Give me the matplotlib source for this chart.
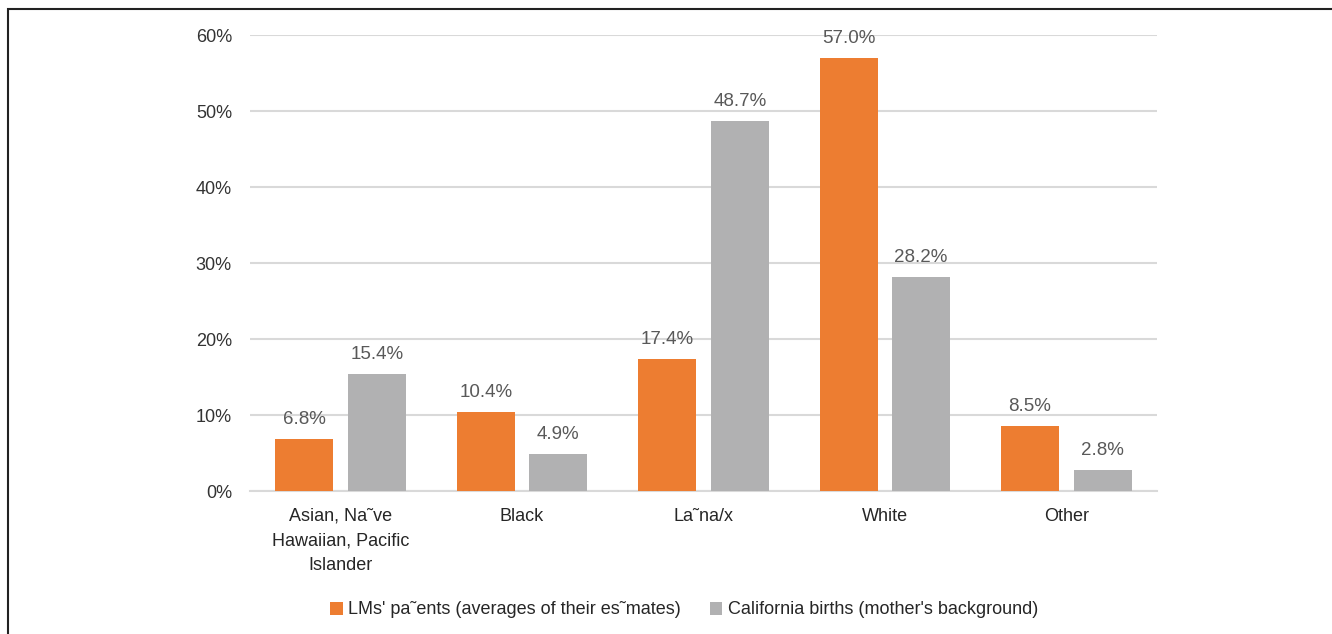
import matplotlib
matplotlib.use("Agg")
import matplotlib.pyplot as plt
import numpy as np
from matplotlib.patches import Rectangle

categories = ["Asian, Na\u02dcve\nHawaiian, Pacific\nIslander", "Black", "La\u02dcna/x", "White", "Other"]
lm_values = [6.8, 10.4, 17.4, 57.0, 8.5]
ca_values = [15.4, 4.9, 48.7, 28.2, 2.8]
series_names = ["LMs' pa\u02dcents (averages of their es\u02dcmates)", "California births (mother's background)"]
yticks = [0, 10, 20, 30, 40, 50, 60]

plt.rcParams['font.family'] = ['Liberation Sans', 'DejaVu Sans']

fig = plt.figure(figsize=(13.32, 6.34), dpi=100)
ax = fig.add_axes([250/1332, 1-491/634, (1157-250)/1332, (491-35)/634])

x = np.arange(len(categories))
w = 0.32
off = 0.2
orange = "#ED7D31"
gray = "#B1B1B2"
b1 = ax.bar(x - off, lm_values, w, color=orange, label=series_names[0], zorder=3)
b2 = ax.bar(x + off, ca_values, w, color=gray, label=series_names[1], zorder=3)

for bars, vals in ((b1, lm_values), (b2, ca_values)):
    for r, v in zip(bars, vals):
        ax.annotate(f"{v:.1f}%", (r.get_x() + r.get_width()/2, v), xytext=(0, 8),
                    textcoords="offset points", ha="center", va="bottom",
                    fontsize=13.5, color="#595959")

ax.set_xlim(-0.5, 4.5)
ax.set_ylim(0, 60)
ax.set_yticks(yticks)
ax.set_yticklabels([f"{t}%" for t in yticks], fontsize=13, color="#333333")
ax.set_xticks(x)
ax.set_xticklabels(categories, fontsize=13, color="#262626", linespacing=1.6)
ax.tick_params(axis='both', length=0)
ax.tick_params(axis='y', pad=13)
ax.tick_params(axis='x', pad=12)
ax.grid(axis='y', color="#D9D9D9", linewidth=1.5, zorder=0)
for s in ['top', 'right', 'left']:
    ax.spines[s].set_visible(False)
ax.spines['bottom'].set_color("#D9D9D9")
ax.spines['bottom'].set_linewidth(1.5)

leg = fig.legend(handles=[b1, b2], loc='center', bbox_to_anchor=(684/1332, 1-610/634),
                 ncol=2, frameon=False, fontsize=13, handlelength=0.7, handleheight=0.7,
                 handletextpad=0.3, columnspacing=1.6)
for t in leg.get_texts():
    t.set_color("#262626")

fig.patches.append(Rectangle((8/1332, -0.1), 1.2, 1.1 - 9/634, transform=fig.transFigure,
                             fill=False, edgecolor="#222222", linewidth=1.5))

fig.savefig("out.png", dpi=100)
